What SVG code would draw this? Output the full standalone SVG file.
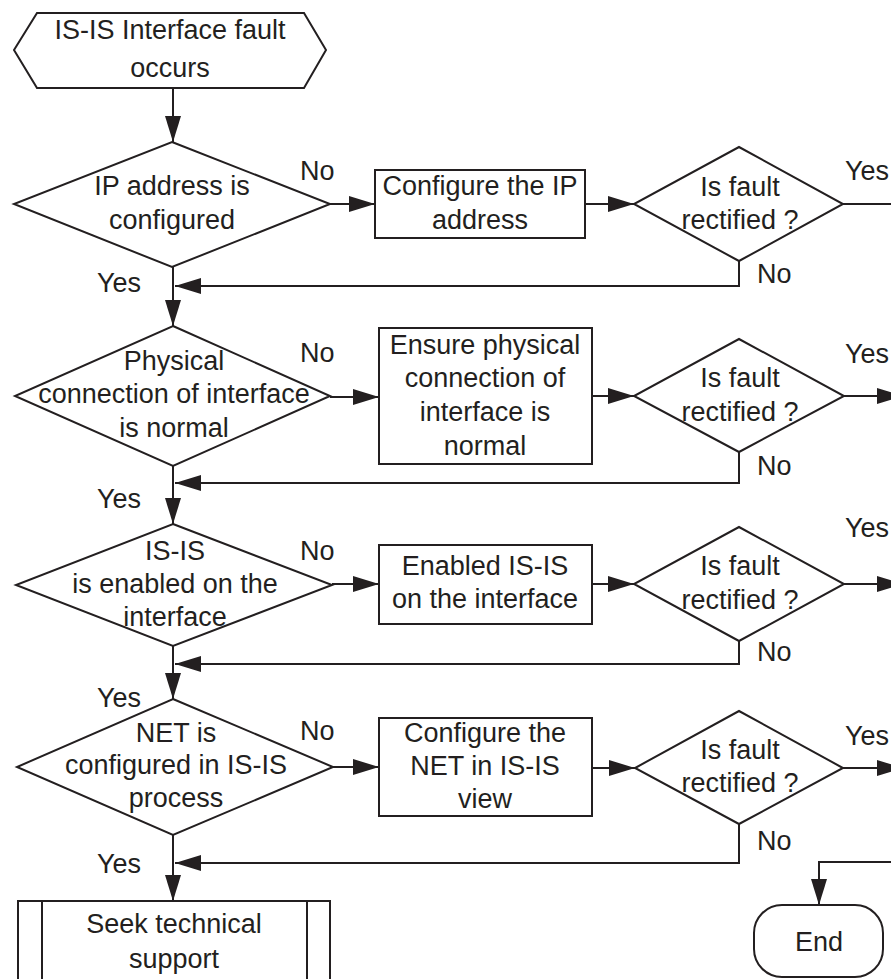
<svg xmlns="http://www.w3.org/2000/svg" width="891" height="979" viewBox="0 0 891 979">
  <defs>
    <style>
      .shape { fill: #ffffff; stroke: #231f20; stroke-width: 2; }
      .line { fill: none; stroke: #231f20; stroke-width: 2; }
      .arrow { marker-end: url(#head); }
      text { font-family: "Liberation Sans", Arial, sans-serif; font-size: 27px; fill: #231f20; }
      .c { text-anchor: middle; }
    </style>
    <marker id="head" markerUnits="userSpaceOnUse" markerWidth="26" markerHeight="16" refX="26" refY="8" orient="auto">
      <path d="M0,0 L26,8 L0,16 z" fill="#231f20"/>
    </marker>
  </defs>

  <rect width="891" height="979" fill="#ffffff"/>

  <!-- connectors -->
  <g id="connectors">
    <!-- main column -->
    <path class="line arrow" d="M173,88 V142"/>
    <path class="line arrow" d="M173,267 V326"/>
    <path class="line arrow" d="M173,466 V524"/>
    <path class="line arrow" d="M173,646 V699"/>
    <path class="line arrow" d="M173,835 V901"/>
    <!-- No branches to action boxes -->
    <path class="line arrow" d="M330,204 H375"/>
    <path class="line arrow" d="M330,397 H379"/>
    <path class="line arrow" d="M332,584 H379"/>
    <path class="line arrow" d="M333,767 H379"/>
    <!-- action boxes to checks -->
    <path class="line arrow" d="M585,204 H634"/>
    <path class="line arrow" d="M592,396 H634"/>
    <path class="line arrow" d="M592,584 H634"/>
    <path class="line arrow" d="M592,768 H635"/>
    <!-- not rectified: back to main column -->
    <path class="line arrow" d="M739,261 V286 H175"/>
    <path class="line arrow" d="M739,452 V483 H175"/>
    <path class="line arrow" d="M739,641 V664 H175"/>
    <path class="line arrow" d="M739,824 V863 H175"/>
    <!-- rectified -->
    <path class="line" d="M843,204 H891"/>
    <path class="line arrow" d="M844,396 H903"/>
    <path class="line arrow" d="M844,584 H903"/>
    <path class="line arrow" d="M843,768 H903"/>
    <path class="line arrow" d="M891,862 H819 V905"/>
  </g>

  <!-- branch labels -->
  <g id="labels">
    <text x="300" y="180">No</text>
    <text x="300" y="362">No</text>
    <text x="300" y="560">No</text>
    <text x="300" y="740">No</text>
    <text x="97" y="292">Yes</text>
    <text x="97" y="508">Yes</text>
    <text x="97" y="707">Yes</text>
    <text x="97" y="873">Yes</text>
    <text x="757" y="283">No</text>
    <text x="757" y="475">No</text>
    <text x="757" y="661">No</text>
    <text x="757" y="850">No</text>
    <text x="845" y="180">Yes</text>
    <text x="845" y="363">Yes</text>
    <text x="845" y="537">Yes</text>
    <text x="845" y="745">Yes</text>
  </g>

  <g id="start">
    <polygon class="shape" points="14,50 37,13 304,13 326,50 304,88 37,88"/>
    <text class="c" x="170" y="39">IS-IS Interface fault</text>
    <text class="c" x="170" y="77">occurs</text>
  </g>

  <g id="check-ip">
    <polygon class="shape" points="172,142 330,204 172,267 14,204"/>
    <text class="c" x="172" y="195">IP address is</text>
    <text class="c" x="172" y="229">configured</text>
  </g>
  <g id="fix-ip">
    <rect class="shape" x="375" y="170" width="210" height="68"/>
    <text class="c" x="480" y="195">Configure the IP</text>
    <text class="c" x="480" y="229">address</text>
  </g>
  <g id="verify-ip">
    <polygon class="shape" points="739,147 843,204 739,261 634,204"/>
    <text class="c" x="740" y="196">Is fault</text>
    <text class="c" x="740" y="229">rectified ?</text>
  </g>

  <g id="check-physical">
    <polygon class="shape" points="173,326 330,396 173,466 15,396"/>
    <text class="c" x="174" y="370">Physical</text>
    <text class="c" x="174" y="403">connection of interface</text>
    <text class="c" x="174" y="437">is normal</text>
  </g>
  <g id="fix-physical">
    <rect class="shape" x="379" y="328" width="213" height="136"/>
    <text class="c" x="485" y="354">Ensure physical</text>
    <text class="c" x="485" y="387">connection of</text>
    <text class="c" x="485" y="421">interface is</text>
    <text class="c" x="485" y="455">normal</text>
  </g>
  <g id="verify-physical">
    <polygon class="shape" points="739,339 844,396 739,452 634,396"/>
    <text class="c" x="740" y="387">Is fault</text>
    <text class="c" x="740" y="421">rectified ?</text>
  </g>

  <g id="check-enabled">
    <polygon class="shape" points="173,524 332,585 173,646 16,585"/>
    <text class="c" x="175" y="560">IS-IS</text>
    <text class="c" x="175" y="593">is enabled on the</text>
    <text class="c" x="175" y="626">interface</text>
  </g>
  <g id="fix-enabled">
    <rect class="shape" x="379" y="545" width="213" height="79"/>
    <text class="c" x="485" y="575">Enabled IS-IS</text>
    <text class="c" x="485" y="608">on the interface</text>
  </g>
  <g id="verify-enabled">
    <polygon class="shape" points="739,527 844,584 739,641 634,584"/>
    <text class="c" x="740" y="575">Is fault</text>
    <text class="c" x="740" y="609">rectified ?</text>
  </g>

  <g id="check-net">
    <polygon class="shape" points="173,699 333,767 173,835 17,767"/>
    <text class="c" x="176" y="742">NET is</text>
    <text class="c" x="176" y="774">configured in IS-IS</text>
    <text class="c" x="176" y="807">process</text>
  </g>
  <g id="fix-net">
    <rect class="shape" x="379" y="718" width="213" height="98"/>
    <text class="c" x="485" y="742">Configure the</text>
    <text class="c" x="485" y="775">NET in IS-IS</text>
    <text class="c" x="485" y="808">view</text>
  </g>
  <g id="verify-net">
    <polygon class="shape" points="739,711 843,768 739,824 635,768"/>
    <text class="c" x="740" y="759">Is fault</text>
    <text class="c" x="740" y="792">rectified ?</text>
  </g>

  <g id="support">
    <rect class="shape" x="18" y="901" width="312" height="92"/>
    <path class="line" d="M42,901 V993 M307,901 V993"/>
    <text class="c" x="174" y="933">Seek technical</text>
    <text class="c" x="174" y="968">support</text>
  </g>

  <g id="end">
    <rect class="shape" x="754" y="905" width="129" height="72" rx="28"/>
    <text class="c" x="819" y="951">End</text>
  </g>
</svg>
